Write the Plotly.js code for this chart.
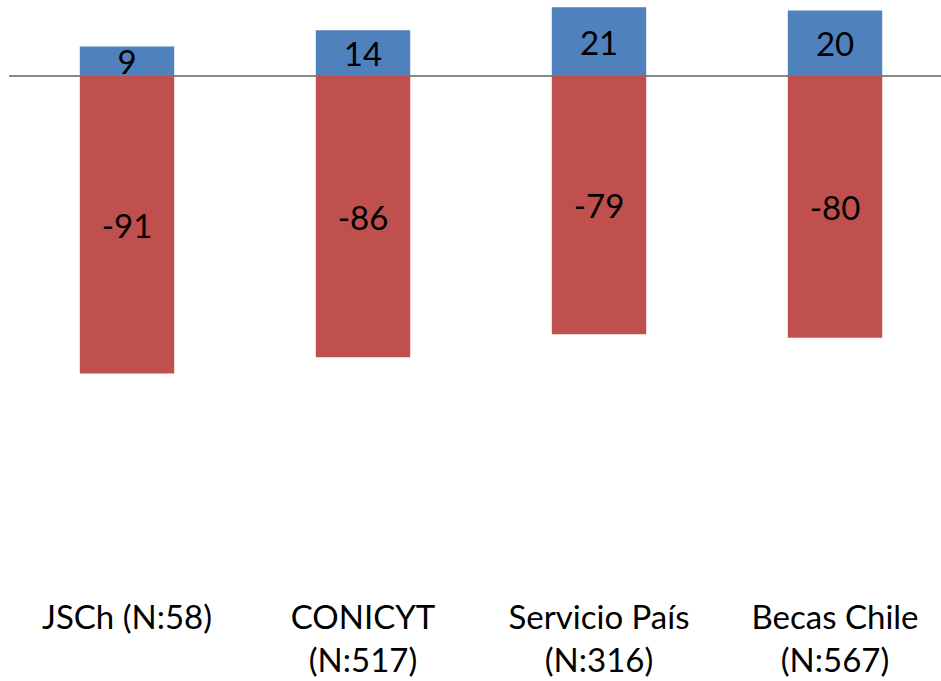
<!DOCTYPE html>
<html>
<head>
<meta charset="utf-8">
<script src="https://cdn.plot.ly/plotly-3.0.1.min.js"></script>
<style>html,body{margin:0;padding:0;background:#fff;}#chart{width:941px;height:681px;}</style>
</head>
<body>
<div id="chart"></div>
<script>
const categories = ["JSCh (N:58)", "CONICYT<br>(N:517)", "Servicio País<br>(N:316)", "Becas Chile<br>(N:567)"];
const positiveValues = [9, 14, 21, 20];
const negativeValues = [-91, -86, -79, -80];

const FONT = "Lato, 'Open Sans', sans-serif";
const common = {
  type: "bar",
  x: categories,
  textposition: "inside",
  insidetextanchor: "middle",
  constraintext: "none",
  textangle: 0,
  textfont: {family: FONT, size: 33, color: "#000"},
  insidetextfont: {family: FONT, size: 33, color: "#000"},
  texttemplate: "%{text}",
  hoverinfo: "skip",
  cliponaxis: false
};
const traces = [
  Object.assign({}, common, {y: positiveValues, text: positiveValues.map(String), name: "pos", marker: {color: "#4F81BD", line: {width: 0}}}),
  Object.assign({}, common, {y: negativeValues, text: negativeValues.map(String), name: "neg", marker: {color: "#C0504D", line: {width: 0}}})
];
const layout = {
  width: 941, height: 681,
  margin: {l: 9, r: 0, t: 0, b: 86, pad: 0},
  paper_bgcolor: "#fff", plot_bgcolor: "#fff",
  barmode: "relative",
  bargap: 0.6,
  showlegend: false,
  font: {family: FONT, size: 33, color: "#000"},
  xaxis: {
    type: "category",
    range: [-0.5, 3.449],
    showgrid: false, zeroline: false, showline: false,
    ticks: "", tickfont: {family: FONT, size: 33, color: "#000"}
  },
  yaxis: {
    range: [-158.7, 23.24],
    showgrid: false, showticklabels: false, ticks: "",
    zeroline: true, zerolinecolor: "#878787", zerolinewidth: 2, showline: false
  }
};
Plotly.newPlot("chart", traces, layout, {displayModeBar: false, staticPlot: true});
</script>
</body>
</html>
